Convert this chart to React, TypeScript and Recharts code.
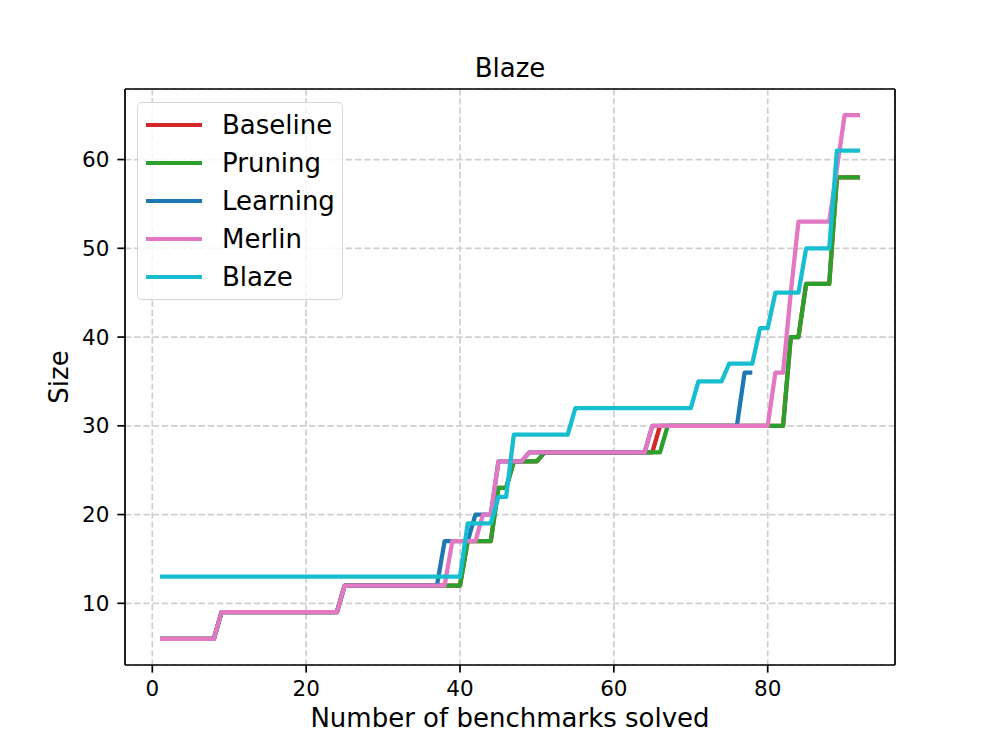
import React from 'react';
import { LineChart, Line, XAxis, YAxis, CartesianGrid, Legend, ReferenceLine } from 'recharts';

// sorted solution sizes, one entry per solved benchmark (x = 1..N)
const baseline = [
  6, 6, 6, 6, 6, 6, 6, 6,
  9, 9, 9, 9, 9, 9, 9, 9, 9, 9, 9, 9, 9, 9, 9, 9,
  12, 12, 12, 12, 12, 12, 12, 12, 12, 12, 12, 12, 12, 12, 12, 12,
  17, 17, 17, 17,
  23, 23,
  26, 26, 26, 26,
  27, 27, 27, 27, 27, 27, 27, 27, 27, 27, 27, 27, 27, 27, 27,
  30, 30, 30, 30, 30, 30, 30, 30, 30, 30, 30, 30, 30, 30, 30, 30, 30,
  40, 40,
  46, 46, 46, 46,
  58, 58, 58, 58,
];

const pruning = [
  6, 6, 6, 6, 6, 6, 6, 6,
  9, 9, 9, 9, 9, 9, 9, 9, 9, 9, 9, 9, 9, 9, 9, 9,
  12, 12, 12, 12, 12, 12, 12, 12, 12, 12, 12, 12, 12, 12, 12, 12,
  17, 17, 17, 17,
  23, 23,
  26, 26, 26, 26,
  27, 27, 27, 27, 27, 27, 27, 27, 27, 27, 27, 27, 27, 27, 27, 27,
  30, 30, 30, 30, 30, 30, 30, 30, 30, 30, 30, 30, 30, 30, 30, 30,
  40, 40,
  46, 46, 46, 46,
  58, 58, 58, 58,
];

const learning = [
  6, 6, 6, 6, 6, 6, 6, 6,
  9, 9, 9, 9, 9, 9, 9, 9, 9, 9, 9, 9, 9, 9, 9, 9,
  12, 12, 12, 12, 12, 12, 12, 12, 12, 12, 12, 12, 12,
  17, 17, 17, 17,
  20, 20, 20,
  26, 26, 26, 26,
  27, 27, 27, 27, 27, 27, 27, 27, 27, 27, 27, 27, 27, 27, 27, 27,
  30, 30, 30, 30, 30, 30, 30, 30, 30, 30, 30, 30,
  36, 36,
];

const merlin = [
  6, 6, 6, 6, 6, 6, 6, 6,
  9, 9, 9, 9, 9, 9, 9, 9, 9, 9, 9, 9, 9, 9, 9, 9,
  12, 12, 12, 12, 12, 12, 12, 12, 12, 12, 12, 12, 12, 12,
  17, 17, 17, 17,
  20, 20,
  26, 26, 26, 26,
  27, 27, 27, 27, 27, 27, 27, 27, 27, 27, 27, 27, 27, 27, 27, 27,
  30, 30, 30, 30, 30, 30, 30, 30, 30, 30, 30, 30, 30, 30, 30, 30,
  36, 36,
  45,
  53, 53, 53, 53, 53,
  59,
  65, 65, 65,
];

const blaze = [
  13, 13, 13, 13, 13, 13, 13, 13, 13, 13, 13, 13, 13, 13, 13, 13, 13, 13, 13, 13,
  13, 13, 13, 13, 13, 13, 13, 13, 13, 13, 13, 13, 13, 13, 13, 13, 13, 13, 13, 13,
  19, 19, 19, 19,
  22, 22,
  29, 29, 29, 29, 29, 29, 29, 29,
  32, 32, 32, 32, 32, 32, 32, 32, 32, 32, 32, 32, 32, 32, 32, 32,
  35, 35, 35, 35,
  37, 37, 37, 37,
  41, 41,
  45, 45, 45, 45,
  50, 50, 50, 50,
  61, 61, 61, 61,
];

const xTicks = [0, 20, 40, 60, 80];
const yTicks = [10, 20, 30, 40, 50, 60];

const SERIES = [
  { key: 'Baseline', values: baseline, color: '#d62728' },
  { key: 'Pruning', values: pruning, color: '#2ca02c' },
  { key: 'Learning', values: learning, color: '#1f77b4' },
  { key: 'Merlin', values: merlin, color: '#e377c2' },
  { key: 'Blaze', values: blaze, color: '#17becf' },
];

const data = blaze.map((_, i) => {
  const row: Record<string, number | undefined> = { n: i + 1 };
  SERIES.forEach(s => { row[s.key] = s.values[i]; });
  return row;
});

const FONT = '"DejaVu Sans", sans-serif';
const X_DOMAIN: [number, number] = [-3.55, 96.55];
const Y_DOMAIN: [number, number] = [3.05, 67.95];
const spine = { stroke: '#000', strokeWidth: 1.7 };
const tickStyle = { fill: '#000', fontSize: 21.5, fontFamily: FONT };

const LegendBox = () => (
  <div style={{
    width: 206, height: 198, boxSizing: 'border-box',
    background: 'rgba(255,255,255,0.8)', border: '1.7px solid rgba(204,204,204,0.8)',
    borderRadius: 5, padding: '3px 0 0 8px', fontFamily: FONT,
  }}>
    {SERIES.map(s => (
      <div key={s.key} style={{ display: 'flex', alignItems: 'center', height: 38 }}>
        <div style={{ width: 56, height: 4, background: s.color }} />
        <span style={{ marginLeft: 20, fontSize: 26, color: '#000', lineHeight: 1 }}>{s.key}</span>
      </div>
    ))}
  </div>
);

export default function App() {
  return (
    <div style={{ width: 996, height: 747, background: '#fff' }}>
      <style>{'body{margin:0}'}</style>
      <LineChart width={996} height={747} data={data}
        margin={{ top: 89, right: 101, bottom: 42, left: 65 }}>
        <CartesianGrid stroke="#cfcfcf" strokeWidth={1.7} strokeDasharray="6.4 2.8" />
        <XAxis dataKey="n" type="number" domain={X_DOMAIN} ticks={xTicks} allowDataOverflow
          height={40} tickSize={7.6} tickMargin={8} axisLine={spine} tickLine={spine} tick={tickStyle} />
        <YAxis type="number" domain={Y_DOMAIN} ticks={yTicks} allowDataOverflow
          width={60} tickSize={7.6} tickMargin={8} axisLine={spine} tickLine={spine} tick={tickStyle} />
        {SERIES.map(s => (
          <Line key={s.key} type="linear" dataKey={s.key} stroke={s.color} strokeWidth={4.3}
            strokeLinejoin="round" dot={false} activeDot={false} isAnimationActive={false} />
        ))}
        {/* top and right spines */}
        <ReferenceLine y={Y_DOMAIN[1]} stroke="#000" strokeWidth={1.7} ifOverflow="visible" />
        <ReferenceLine x={X_DOMAIN[1]} stroke="#000" strokeWidth={1.7} ifOverflow="visible" />
        <Legend layout="horizontal" align="center" verticalAlign="middle"
          wrapperStyle={{ left: 137, top: 102, width: 206, height: 198 }}
          content={() => <LegendBox />} />
        <text x={510} y={77} textAnchor="middle" fontSize={26} fontFamily={FONT} fill="#000">Blaze</text>
        <text x={510} y={727} textAnchor="middle" fontSize={26} fontFamily={FONT} fill="#000">
          Number of benchmarks solved
        </text>
        <text x={68} y={377} textAnchor="middle" fontSize={26} fontFamily={FONT} fill="#000"
          transform="rotate(-90, 68, 377)">Size</text>
      </LineChart>
    </div>
  );
}
